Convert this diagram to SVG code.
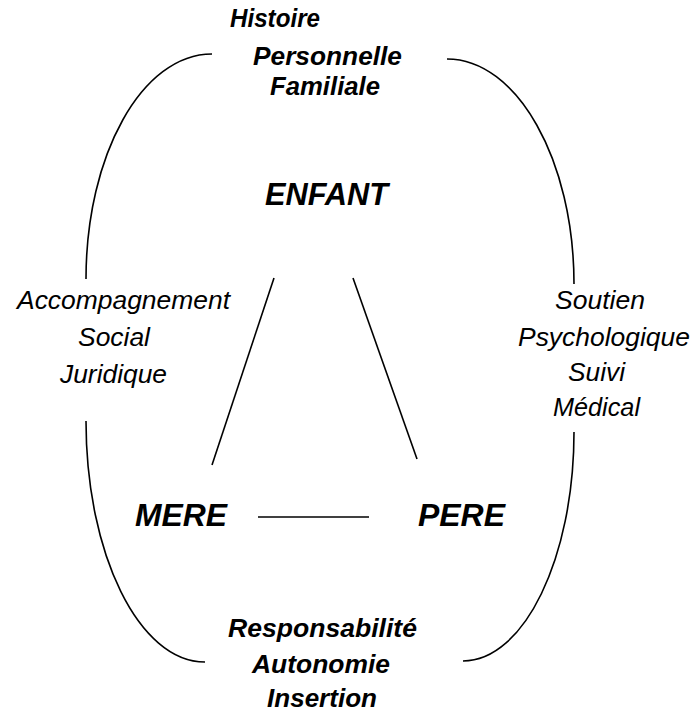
<svg xmlns="http://www.w3.org/2000/svg" width="695" height="712" viewBox="0 0 695 712">
<style>
text{font-family:"Liberation Sans",Arial,sans-serif;font-style:italic;fill:#000}
.b{font-weight:bold;font-size:25px}
.big{font-weight:bold;font-size:32px}
.n{font-size:25px}
.ln{fill:none;stroke:#000;stroke-width:1.6}
</style>
<rect width="695" height="712" fill="#fff"/>
<g id="connectors">
<path class="ln" d="M212,54 C142,54 86,155 86,279"/>
<path class="ln" d="M447,59 C517,59 574,160 574,284"/>
<path class="ln" d="M86,421 C86,554 139,662 205,662"/>
<path class="ln" d="M574,432 C574,558 524,661 463,661"/>
<line class="ln" x1="274" y1="278" x2="212" y2="465"/>
<line class="ln" x1="353" y1="278" x2="417" y2="459"/>
<line class="ln" x1="258" y1="517" x2="369" y2="517"/>
</g>
<g id="histoire">
<text class="b" x="230" y="27" textLength="90" lengthAdjust="spacingAndGlyphs">Histoire</text>
<text class="b" x="253" y="65" textLength="149" lengthAdjust="spacingAndGlyphs">Personnelle</text>
<text class="b" x="270" y="95" textLength="110" lengthAdjust="spacingAndGlyphs">Familiale</text>
</g>
<g id="enfant">
<text class="big" x="265" y="205" textLength="123" lengthAdjust="spacingAndGlyphs">ENFANT</text>
</g>
<g id="accompagnement">
<text class="n" x="17" y="309" textLength="213" lengthAdjust="spacingAndGlyphs">Accompagnement</text>
<text class="n" x="78" y="346" textLength="72" lengthAdjust="spacingAndGlyphs">Social</text>
<text class="n" x="60" y="383" textLength="107" lengthAdjust="spacingAndGlyphs">Juridique</text>
</g>
<g id="soutien">
<text class="n" x="555" y="309" textLength="90" lengthAdjust="spacingAndGlyphs">Soutien</text>
<text class="n" x="518" y="346" textLength="172" lengthAdjust="spacingAndGlyphs">Psychologique</text>
<text class="n" x="568" y="381" textLength="57" lengthAdjust="spacingAndGlyphs">Suivi</text>
<text class="n" x="553" y="416" textLength="87" lengthAdjust="spacingAndGlyphs">Médical</text>
</g>
<g id="mere">
<text class="big" x="135" y="526" textLength="92" lengthAdjust="spacingAndGlyphs">MERE</text>
</g>
<g id="pere">
<text class="big" x="418" y="526" textLength="87" lengthAdjust="spacingAndGlyphs">PERE</text>
</g>
<g id="responsabilite">
<text class="b" x="228" y="637" textLength="189" lengthAdjust="spacingAndGlyphs">Responsabilité</text>
<text class="b" x="252" y="673" textLength="138" lengthAdjust="spacingAndGlyphs">Autonomie</text>
<text class="b" x="267" y="707" textLength="110" lengthAdjust="spacingAndGlyphs">Insertion</text>
</g>
</svg>
